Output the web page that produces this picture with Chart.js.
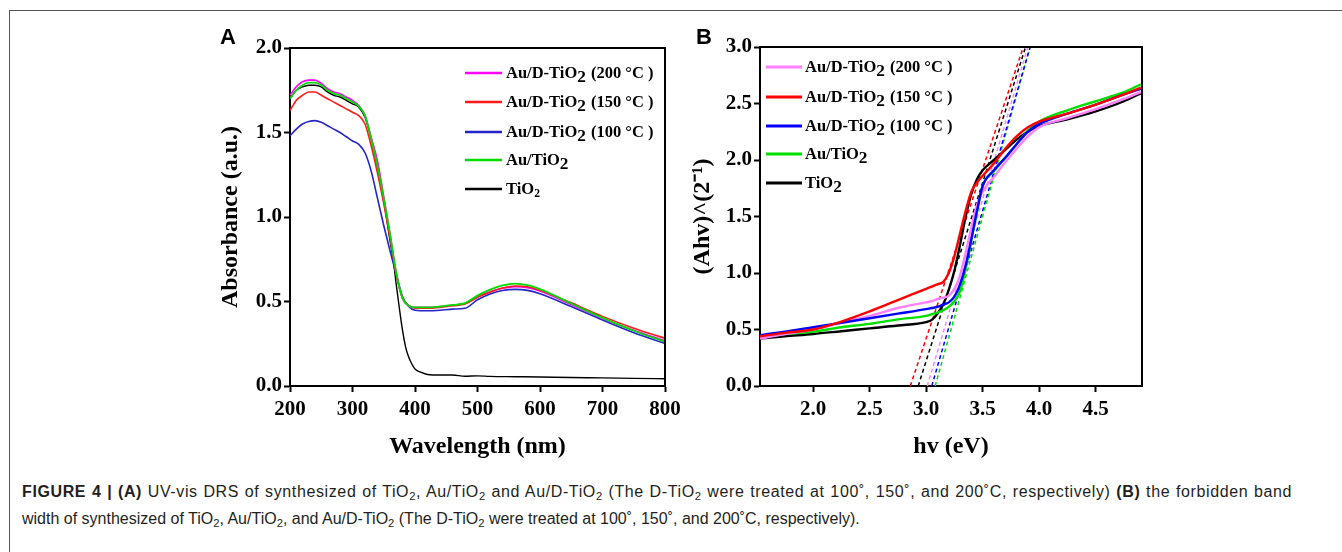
<!DOCTYPE html>
<html><head><meta charset="utf-8">
<script src="https://cdn.jsdelivr.net/npm/chart.js@4.4.1/dist/chart.umd.min.js"></script>
<style>
html,body{margin:0;padding:0;background:#fff;width:1342px;height:552px;overflow:hidden;position:relative;}
#frame{position:absolute;left:9px;top:10px;width:1400px;height:600px;border-left:1.5px solid #555;border-top:1.5px solid #555;}
canvas{position:absolute;top:0;}
#cA{left:180px;} #cB{left:680px;}
.lbl{position:absolute;font:bold 22px "Liberation Sans",Arial,sans-serif;line-height:22px;color:#000;}
.cap{position:absolute;left:22px;font:16px "Liberation Sans",Arial,sans-serif;line-height:20px;color:#231f20;white-space:nowrap;}
#cap1{top:482px;width:1270px;letter-spacing:0.62px;text-align:justify;text-align-last:justify;white-space:normal;}
#cap2{top:509px;}
.cap sub{font-size:0.7em;vertical-align:-0.3em;line-height:0;}
</style></head>
<body>
<div id="frame"></div>
<canvas id="cA" width="540" height="470"></canvas>
<canvas id="cB" width="500" height="470"></canvas>
<div class="lbl" style="left:220px;top:26px;">A</div>
<div class="lbl" style="left:696px;top:26px;">B</div>
<div id="cap1" class="cap"><b>FIGURE 4 | (A)</b> UV-vis DRS of synthesized of TiO<sub>2</sub>, Au/TiO<sub>2</sub> and Au/D-TiO<sub>2</sub> (The D-TiO<sub>2</sub> were treated at 100˚, 150˚, and 200˚C, respectively) <b>(B)</b> the forbidden band</div>
<div id="cap2" class="cap">width of synthesized of TiO<sub>2</sub>, Au/TiO<sub>2</sub>, and Au/D-TiO<sub>2</sub> (The D-TiO<sub>2</sub> were treated at 100˚, 150˚, and 200˚C, respectively).</div>
<script>
// ---------- Data ----------
const seriesLabels = ['Au/D-TiO₂ (200 °C )','Au/D-TiO₂ (150 °C )','Au/D-TiO₂ (100 °C )','Au/TiO₂','TiO₂'];

// Panel A: UV-vis absorbance
const wavelengths = [200,210,220,230,240,250,260,270,280,290,300,310,320,330,340,350,360,370,380,390,400,420,440,460,480,500,520,540,560,580,600,650,700,750,800];
const absPink  = [1.72,1.77,1.80,1.81,1.81,1.79,1.76,1.74,1.73,1.71,1.69,1.66,1.60,1.47,1.33,1.12,0.90,0.67,0.52,0.475,0.465,0.465,0.47,0.478,0.488,0.528,0.558,0.578,0.588,0.582,0.562,0.482,0.40,0.33,0.267];
const absRed   = [1.63,1.69,1.72,1.74,1.74,1.72,1.70,1.68,1.66,1.64,1.62,1.60,1.55,1.42,1.26,1.08,0.88,0.66,0.52,0.475,0.46,0.46,0.465,0.475,0.485,0.525,0.555,0.58,0.592,0.587,0.567,0.492,0.412,0.342,0.283];
const absBlue  = [1.48,1.52,1.55,1.565,1.57,1.56,1.54,1.52,1.50,1.475,1.45,1.43,1.38,1.27,1.11,0.95,0.80,0.66,0.53,0.47,0.448,0.445,0.448,0.455,0.46,0.51,0.545,0.565,0.572,0.566,0.546,0.47,0.39,0.315,0.252];
const absGreen = [1.70,1.75,1.78,1.795,1.795,1.78,1.75,1.73,1.72,1.70,1.68,1.655,1.60,1.46,1.30,1.11,0.90,0.67,0.52,0.475,0.465,0.465,0.47,0.48,0.49,0.535,0.57,0.595,0.606,0.597,0.573,0.488,0.403,0.327,0.262];
const wavelengthsTiO2 = [200,210,220,230,240,250,260,270,280,290,300,310,320,330,340,350,360,365,370,375,380,385,390,395,400,410,420,440,460,480,500,520,560,600,650,700,750,800];
const absTiO2  = [1.70,1.75,1.77,1.78,1.78,1.77,1.74,1.72,1.71,1.69,1.67,1.65,1.59,1.46,1.29,1.10,0.86,0.75,0.60,0.46,0.33,0.23,0.17,0.13,0.10,0.08,0.068,0.065,0.065,0.058,0.06,0.057,0.055,0.053,0.05,0.048,0.045,0.043];

// Panel B: Tauc plot
const energies = [1.53,1.75,2.0,2.25,2.5,2.75,3.0,3.05,3.1,3.15,3.2,3.25,3.3,3.35,3.4,3.45,3.5,3.6,3.7,3.8,3.9,4.0,4.25,4.5,4.75,4.9];
const taucPink  = [0.42,0.46,0.50,0.56,0.62,0.69,0.74,0.75,0.77,0.78,0.80,0.86,0.98,1.18,1.40,1.60,1.72,1.85,1.98,2.10,2.21,2.29,2.37,2.45,2.54,2.60];
const taucRed   = [0.44,0.47,0.50,0.57,0.66,0.76,0.86,0.88,0.90,0.92,1.00,1.15,1.35,1.55,1.72,1.80,1.86,1.97,2.10,2.21,2.29,2.34,2.41,2.49,2.58,2.64];
const taucBlue  = [0.45,0.48,0.52,0.56,0.60,0.64,0.68,0.69,0.70,0.72,0.74,0.79,0.90,1.07,1.30,1.55,1.77,1.91,2.02,2.14,2.25,2.32,2.41,2.49,2.58,2.63];
const taucGreen = [0.43,0.46,0.48,0.52,0.55,0.59,0.62,0.635,0.65,0.67,0.70,0.75,0.84,1.04,1.29,1.54,1.77,1.90,2.02,2.14,2.26,2.34,2.44,2.52,2.60,2.67];
const taucTiO2  = [0.42,0.44,0.46,0.485,0.51,0.535,0.565,0.585,0.64,0.72,0.85,1.02,1.25,1.50,1.70,1.83,1.91,2.00,2.09,2.18,2.25,2.30,2.36,2.43,2.52,2.59];

// Tangent (extrapolation) lines: x at y=0 and x at y=3
const tangentY  = [0, 3.0];
const tangentX0 = [3.01, 2.86, 3.05, 3.08, 2.93]; // pink, red, blue, green, black
const tangentX1 = [3.90, 3.86, 3.92, 3.92, 3.88];

// Tick labels
const ticksAx = [200,300,400,500,600,700,800];
const ticksAy = [0,0.5,1.0,1.5,2.0];
const ticksBx = [2.0,2.5,3.0,3.5,4.0,4.5];
const ticksBy = [0,0.5,1.0,1.5,2.0,2.5,3.0];

// ---------- Styles ----------
const colorsA = ['#ff00ff','#ff1a1a','#2424c8','#00dd00','#000000'];
const colorsB = ['#ff80ff','#ff0000','#0000ff','#00e000','#000000'];
const SERIF = '"Liberation Serif","Times New Roman",serif';
const tickFont = {family:SERIF, size:21, weight:'bold'};
const titleFont = {family:SERIF, size:24, weight:'bold'};

function pts(xs, ys){ return xs.map((x,i)=>({x:x, y:ys[i]})); }

function scaleSet(o){
  return {
    x:{type:'linear', min:o.xmin, max:o.xmax,
      afterBuildTicks:s=>{ s.ticks = o.xt.map(v=>({value:v})); },
      ticks:{font:tickFont,color:'#000',padding:5,maxRotation:0,autoSkip:false,callback:v=>o.xfmt(v)},
      grid:{drawOnChartArea:false,drawTicks:true,tickLength:6,tickWidth:2,tickColor:'#000'},
      border:{display:true,color:'#000',width:2},
      title:{display:true,text:o.xTitle,font:titleFont,color:'#000',padding:{top:0,bottom:o.xTitlePad}},
      afterFit:s=>{ s.height = o.xH; }
    },
    y:{type:'linear', min:o.ymin, max:o.ymax,
      afterBuildTicks:s=>{ s.ticks = o.yt.map(v=>({value:v})); },
      ticks:{font:tickFont,color:'#000',padding:2,autoSkip:false,callback:v=>Number(v).toFixed(1)},
      grid:{drawOnChartArea:false,drawTicks:true,tickLength:6,tickWidth:2,tickColor:'#000'},
      border:{display:true,color:'#000',width:2},
      title:{display:true,text:o.yTitle,font:titleFont,color:'#000',padding:{top:o.yTitlePad,bottom:0}},
      afterFit:s=>{ s.width = o.yW; }
    }
  };
}

const boxPlugin = {
  id:'box',
  afterDraw(chart){
    const {ctx, chartArea:a} = chart;
    ctx.save(); ctx.strokeStyle='#000'; ctx.lineWidth=2;
    ctx.beginPath();
    ctx.moveTo(a.left, a.top); ctx.lineTo(a.right, a.top); ctx.lineTo(a.right, a.bottom);
    ctx.stroke(); ctx.restore();
  }
};

const legendPlugin = {
  id:'customLegend',
  afterDraw(chart, args, opts){
    const ctx = chart.ctx;
    ctx.save();
    opts.items.forEach((it, i)=>{
      const ds = chart.data.datasets[it.ds];
      const y = opts.rows[i];
      ctx.strokeStyle = ds.borderColor; ctx.lineWidth = opts.lw;
      ctx.beginPath(); ctx.moveTo(opts.x0, y); ctx.lineTo(opts.x1, y); ctx.stroke();
      const parts = ds.label.split('₂');
      let x = opts.tx;
      ctx.fillStyle = '#000'; ctx.textBaseline = 'middle'; ctx.textAlign = 'left';
      const big = it.bigSub !== false;
      parts.forEach((p, j)=>{
        ctx.font = 'bold '+opts.fs+'px '+SERIF;
        ctx.fillText(p, x, y+1); x += ctx.measureText(p).width;
        if (j < parts.length-1){
          const ss = big ? opts.fs*1.05 : opts.fs*0.7;
          ctx.font = 'bold '+ss+'px '+SERIF;
          ctx.fillText('2', x, y + 5); x += ctx.measureText('2').width + 1;
        }
      });
    });
    ctx.restore();
  }
};

// ---------- Chart A ----------
new Chart(document.getElementById('cA'), {
  type:'line',
  data:{datasets:[
    {label:seriesLabels[3], data:pts(wavelengths,absGreen), borderColor:colorsA[3], borderWidth:1.8},
    {label:seriesLabels[1], data:pts(wavelengths,absRed), borderColor:colorsA[1], borderWidth:1.6},
    {label:seriesLabels[0], data:pts(wavelengths,absPink), borderColor:colorsA[0], borderWidth:1.6},
    {label:seriesLabels[2], data:pts(wavelengths,absBlue), borderColor:colorsA[2], borderWidth:1.6},
    {label:seriesLabels[4], data:pts(wavelengthsTiO2,absTiO2), borderColor:colorsA[4], borderWidth:1.4}
  ]},
  options:{
    responsive:false, animation:false,
    elements:{point:{radius:0}, line:{cubicInterpolationMode:'monotone', fill:false}},
    layout:{padding:{top:48,right:55,left:0,bottom:0}},
    scales:scaleSet({xmin:200,xmax:800,ymin:0,ymax:2.0,xt:ticksAx,yt:ticksAy,xfmt:v=>String(v),
      xTitle:'Wavelength (nm)',yTitle:'Absorbance (a.u.)',xH:84,yW:110,xTitlePad:9,yTitlePad:36}),
    plugins:{legend:{display:false}, tooltip:{enabled:false},
      customLegend:{x0:285,x1:322,tx:326,fs:16.5,lw:2.5,rows:[73,102,132,160,189],
        items:[{ds:2},{ds:1},{ds:3},{ds:0},{ds:4,bigSub:false}]}}
  },
  plugins:[boxPlugin, legendPlugin]
});

// ---------- Chart B ----------
const tangentSets = [0,1,2,3,4].map(i=>({
  label:seriesLabels[i]+' fit', data:pts([tangentX0[i],tangentX1[i]], tangentY),
  borderColor:colorsB[i], borderWidth:1.5, borderDash:[4,3], cubicInterpolationMode:'default', tension:0
}));
new Chart(document.getElementById('cB'), {
  type:'line',
  data:{datasets:[
    {label:seriesLabels[1], data:pts(energies,taucRed), borderColor:colorsB[1], borderWidth:2.4},
    {label:seriesLabels[2], data:pts(energies,taucBlue), borderColor:colorsB[2], borderWidth:2.4},
    {label:seriesLabels[0], data:pts(energies,taucPink), borderColor:colorsB[0], borderWidth:2.4},
    {label:seriesLabels[3], data:pts(energies,taucGreen), borderColor:colorsB[3], borderWidth:2.4},
    {label:seriesLabels[4], data:pts(energies,taucTiO2), borderColor:colorsB[4], borderWidth:2.4},
    ...tangentSets
  ]},
  options:{
    responsive:false, animation:false,
    elements:{point:{radius:0}, line:{cubicInterpolationMode:'monotone', fill:false}},
    layout:{padding:{top:47,right:38,left:0,bottom:0}},
    scales:scaleSet({xmin:1.53,xmax:4.91,ymin:0,ymax:3.0,xt:ticksBx,yt:ticksBy,xfmt:v=>Number(v).toFixed(1),
      xTitle:'hv (eV)',yTitle:'(Ahv)^(2⁻¹)',xH:84,yW:80,xTitlePad:9,yTitlePad:8}),
    plugins:{legend:{display:false}, tooltip:{enabled:false},
      customLegend:{x0:86,x1:122,tx:125,fs:16.5,lw:3,rows:[67,97,126,154,183],
        items:[{ds:2},{ds:0},{ds:1},{ds:3},{ds:4}]}}
  },
  plugins:[boxPlugin, legendPlugin]
});
</script>
</body></html>
